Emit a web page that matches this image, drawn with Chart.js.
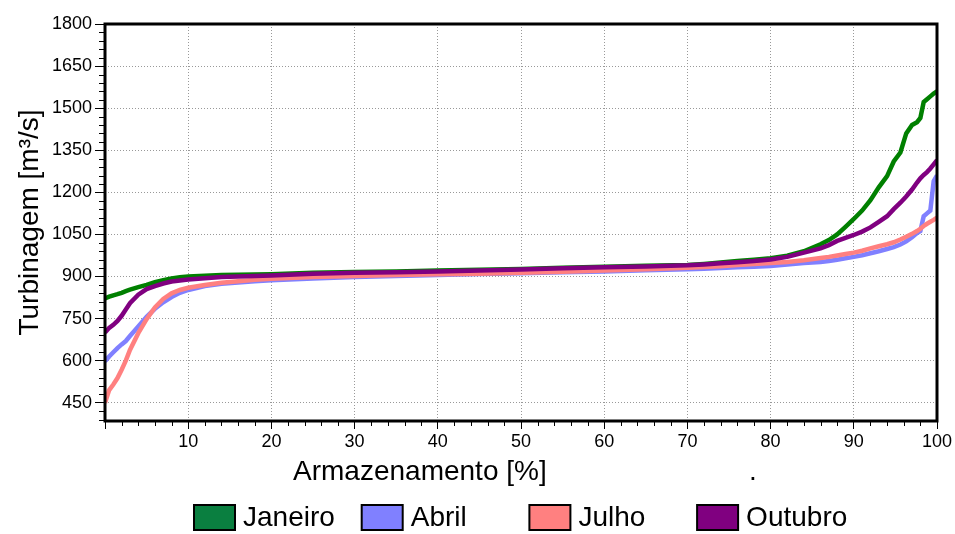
<!DOCTYPE html>
<html>
<head>
<meta charset="utf-8">
<script src="https://cdn.jsdelivr.net/npm/chart.js@4/dist/chart.umd.min.js"></script>
<style>
  html, body { margin: 0; padding: 0; background: #fff; }
  #wrap { width: 955px; height: 534px; }
</style>
</head>
<body>
<div id="wrap"><canvas id="c" width="955" height="534"></canvas></div>
<script>
// Storage level (%) at which each turbined-flow value is given
const storagePct = [0, 0.5, 1, 1.5, 2, 2.5, 3, 4, 5, 6, 7, 8, 9, 10, 12, 14, 16, 18, 20,
  25, 30, 35, 40, 45, 50, 55, 60, 65, 70, 72, 74, 76, 78, 80, 82, 84, 86,
  87, 88, 89, 90, 91, 92, 93, 94, 94.8, 95.6, 96.3, 97, 97.6, 98, 98.4, 98.8, 99.2, 99.6, 100];

// Turbined flow [m³/s] per month
const janeiro = [822, 828, 833, 837, 842, 848, 853, 862, 870, 880, 887, 893, 897, 900, 903, 905, 906, 907, 908,
  913, 916, 918, 921, 924, 927, 931, 935, 938, 941, 945, 950, 955, 960, 965, 974, 990, 1015,
  1030, 1050, 1077, 1105, 1135, 1172, 1218, 1258, 1310, 1342, 1410, 1440, 1450, 1465, 1522, 1532, 1542, 1552, 1560];
const abril = [598, 615, 630, 645, 658, 670, 688, 722, 756, 785, 808, 827, 842, 852, 866, 874, 879, 883, 887,
  893, 898, 902, 905, 909, 912, 915, 918, 922, 926, 928, 930, 933, 935, 937, 943, 948, 952,
  955, 960, 965, 970, 976, 983, 990, 998, 1005, 1014, 1025, 1040, 1055, 1062, 1115, 1125, 1135, 1240, 1260];
const julho = [450, 495, 515, 538, 568, 600, 638, 698, 748, 790, 820, 840, 852, 860, 870, 878, 883, 888, 892,
  898, 902, 905, 908, 910, 913, 917, 921, 926, 931, 934, 937, 941, 945, 948, 952, 958, 966,
  970, 975, 980, 985, 992, 1000, 1008, 1015, 1022, 1032, 1042, 1052, 1062, 1070, 1080, 1088, 1095, 1102, 1110];
const outubro = [700, 717, 728, 742, 760, 782, 805, 835, 855, 866, 875, 882, 886, 889, 894, 898, 900, 902, 904,
  910, 913, 915, 918, 921, 925, 929, 933, 936, 940, 943, 947, 951, 955, 961, 970, 985, 1000,
  1012, 1027, 1038, 1048, 1060, 1075, 1095, 1115, 1140, 1163, 1185, 1210, 1235, 1250, 1262, 1272, 1285, 1300, 1315];

const seriesNames = ['Janeiro', 'Abril', 'Julho', 'Outubro'];
const yTickValues = [450, 600, 750, 900, 1050, 1200, 1350, 1500, 1650, 1800];
const xTickValues = [0, 10, 20, 30, 40, 50, 60, 70, 80, 90, 100];

const FONT = "'Liberation Sans', Arial, Helvetica, sans-serif";
const lineColors = ['#008000', '#8080ff', '#ff8080', '#800080'];
const legendColors = ['#0a7f40', '#8080ff', '#ff8080', '#800080'];

Chart.defaults.font.family = FONT;
Chart.defaults.color = '#000';

const toPoints = (ys) => storagePct.map((x, i) => ({ x: x, y: ys[i] }));

// Frame around the plot area plus minor tick marks on both axes
const frameAndMinorTicks = {
  id: 'frameAndMinorTicks',
  afterDraw(chart) {
    const { ctx, chartArea: a, scales } = chart;
    ctx.save();
    ctx.strokeStyle = '#000';
    ctx.lineWidth = 1;
    ctx.beginPath();
    const ys = scales.y;
    for (let v = 390; v < 1800; v += 30) {
      if (v % 150 === 0) continue;
      const py = Math.round(ys.getPixelForValue(v)) + 0.5;
      ctx.moveTo(a.left - 6, py);
      ctx.lineTo(a.left, py);
    }
    const xs = scales.x;
    for (let v = 2; v < 100; v += 2) {
      if (v % 10 === 0) continue;
      const px = Math.round(xs.getPixelForValue(v)) + 0.5;
      ctx.moveTo(px, a.bottom);
      ctx.lineTo(px, a.bottom + 5);
    }
    ctx.stroke();
    ctx.lineWidth = 3;
    ctx.strokeRect(a.left, a.top, a.right - a.left, a.bottom - a.top);
    ctx.restore();
  }
};

// Legend row below the axis title
const seasonLegend = {
  id: 'seasonLegend',
  afterDraw(chart) {
    const ctx = chart.ctx;
    ctx.save();
    ctx.font = '28px ' + FONT;
    ctx.textBaseline = 'middle';
    ctx.textAlign = 'left';
    chart.data.datasets.forEach((ds, i) => {
      const bx = 194 + i * 167.7, by = 505;
      ctx.fillStyle = legendColors[i];
      ctx.fillRect(bx, by, 41, 25);
      ctx.lineWidth = 2;
      ctx.strokeStyle = '#000';
      ctx.strokeRect(bx, by, 41, 25);
      ctx.fillStyle = '#000';
      ctx.fillText(ds.label, bx + 49, by + 13);
    });
    ctx.restore();
  }
};

const monthly = [janeiro, abril, julho, outubro];

new Chart(document.getElementById('c'), {
  type: 'line',
  data: {
    datasets: monthly.map((ys, i) => ({
      label: seriesNames[i],
      data: toPoints(ys),
      borderColor: lineColors[i],
      backgroundColor: lineColors[i],
      borderWidth: 4.5,
      pointRadius: 0,
      tension: 0,
      fill: false,
      order: 3 - i
    }))
  },
  options: {
    responsive: false,
    animation: false,
    devicePixelRatio: 1,
    layout: { padding: { top: 24, right: 18, bottom: 0, left: 0 } },
    plugins: {
      legend: { display: false },
      tooltip: { enabled: false }
    },
    scales: {
      x: {
        type: 'linear',
        min: 0,
        max: 100,
        afterBuildTicks: (s) => { s.ticks = xTickValues.map(v => ({ value: v })); },
        afterFit: (s) => { s.height = 113; },
        ticks: {
          font: { size: 18 },
          color: '#000',
          padding: 2,
          maxRotation: 0,
          callback: (v) => (v === 0 ? '' : String(v))
        },
        grid: { color: '#999999', lineWidth: 1, tickLength: 8, tickColor: '#000', tickWidth: 1 },
        border: { display: false, dash: [1, 2] },
        title: {
          display: true,
          text: ' Armazenamento [%]' + ' '.repeat(26) + '.',
          font: { size: 28 },
          color: '#000',
          padding: { top: 0, bottom: 45 }
        }
      },
      y: {
        type: 'linear',
        min: 385,
        max: 1800,
        afterBuildTicks: (s) => { s.ticks = yTickValues.map(v => ({ value: v })); },
        afterFit: (s) => { s.width = 105; },
        ticks: { font: { size: 18 }, color: '#000', padding: 3, callback: (v) => String(v) },
        grid: { color: '#999999', lineWidth: 1, tickLength: 10, tickColor: '#000', tickWidth: 1 },
        border: { display: false, dash: [1, 2] },
        title: {
          display: true,
          text: 'Turbinagem [m³/s]',
          font: { size: 28 },
          color: '#000',
          padding: { top: 13, bottom: 0 }
        }
      }
    }
  },
  plugins: [frameAndMinorTicks, seasonLegend]
});
</script>
</body>
</html>
